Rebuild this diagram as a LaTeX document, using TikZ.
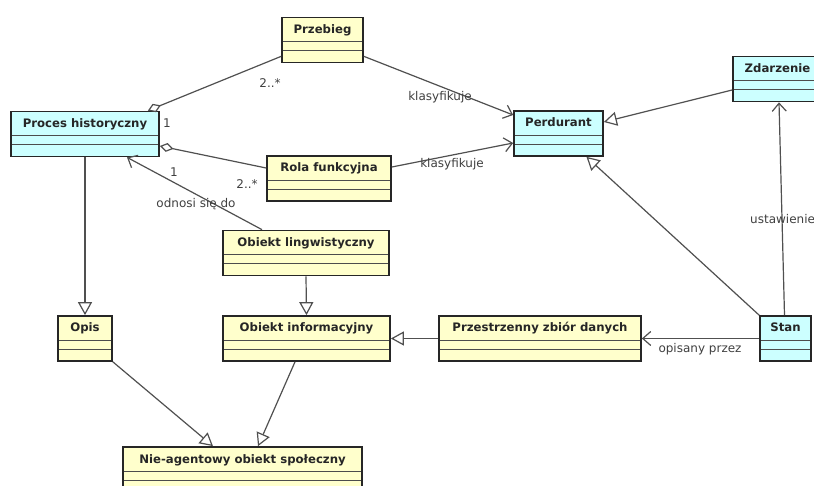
\documentclass[tikz,border=0pt]{standalone}
\usepackage{fontspec}
\setmainfont{DejaVu Sans}
\usepackage{xcolor}
\usepackage{tikz}
\usetikzlibrary{arrows.meta}
\definecolor{clsyellow}{RGB}{255,255,204}
\definecolor{clscyan}{RGB}{204,255,255}
\definecolor{linkgray}{RGB}{80,80,80}

\begin{document}
\begin{tikzpicture}[x=1pt,y=-1pt,
  cls/.style={draw=black!85,line width=1.7pt,inner sep=0pt,text height=16pt,text depth=29pt,
    font=\fontsize{11.7}{14}\selectfont\bfseries,text=black!85,
    path picture={\draw[line width=0.8pt,black!70]
      ([yshift=-24pt]path picture bounding box.north west) -- ([yshift=-24pt]path picture bounding box.north east)
      ([yshift=-33pt]path picture bounding box.north west) -- ([yshift=-33pt]path picture bounding box.north east);}},
  yel/.style={cls,fill=clsyellow},
  cya/.style={cls,fill=clscyan},
  assoc/.style={draw=linkgray,line width=1.2pt,-{Straight Barb[length=8pt,width=14pt]}},
  gen/.style={draw=linkgray,line width=1.2pt,-{Triangle[open,length=13pt,width=14pt]}},
  aggr/.style={draw=linkgray,line width=1.2pt,{Diamond[open,length=14pt,width=9pt]}-},
  lab/.style={font=\fontsize{12}{14}\selectfont,text=black!75,inner sep=1pt}]
\clip (0,0) rectangle (814,486);
\fill[white] (0,0) rectangle (814,486);
% classes
\node[yel,minimum width=81pt] (przeb) at (322.5,40) {Przebieg};
\node[cya,minimum width=148pt] (proc) at (85,134) {Proces historyczny};
\node[yel,minimum width=124pt] (rola) at (329,178.5) {Rola funkcyjna};
\node[cya,minimum width=89pt] (perd) at (558.5,133.5) {Perdurant};
\node[cya,minimum width=89pt] (zd) at (777.5,79) {Zdarzenie};
\node[yel,minimum width=166pt] (oling) at (306,253) {Obiekt lingwistyczny};
\node[yel,minimum width=54pt] (opis) at (85,338.5) {Opis};
\node[yel,minimum width=167pt] (oinf) at (306.5,338.5) {Obiekt informacyjny};
\node[yel,minimum width=202pt] (pzd) at (540,338.5) {Przestrzenny zbiór danych};
\node[cya,minimum width=51pt] (stan) at (785.5,338.5) {Stan};
\node[yel,minimum width=239pt] (nie) at (242.5,469.5) {Nie-agentowy obiekt społeczny};
% aggregations
\draw[aggr] ([xshift=-12pt]proc.north east) -- ([yshift=7pt]przeb.south west);
\draw[aggr] ([yshift=-12pt]proc.east) -- ([yshift=10.5pt]rola.west);
% associations
\draw[assoc] ([yshift=7pt]przeb.south east) -- ([yshift=18.5pt]perd.west);
\draw[assoc] ([yshift=11.5pt]rola.east) -- ([yshift=-9.5pt]perd.west);
\draw[assoc] ([xshift=-44pt]oling.north) -- ([xshift=42pt]proc.south);
\draw[assoc] ([xshift=-1pt]stan.north) -- ([xshift=1.5pt]zd.south);
\draw[assoc] (stan.west) -- (pzd.east);
% generalizations
\draw[gen] ([yshift=-11pt]zd.west) -- ([yshift=11.5pt]perd.east);
\draw[gen] (stan.north west) -- ([xshift=28pt]perd.south);
\draw[gen] (pzd.west) -- (oinf.east);
\draw[gen] (oling.south) -- (oinf.north);
\draw[gen] (proc.south) -- (opis.north);
\draw[gen] (opis.south east) -- ([xshift=-29.5pt]nie.north);
\draw[gen] ([xshift=-11.5pt]oinf.south) -- ([xshift=15.5pt]nie.north);
% labels
\node[lab] (m1) at (270,83) {2..*};
\node[lab] (m2) at (167,123) {1};
\node[lab] (m3) at (174,172) {1};
\node[lab] (m4) at (247,184) {2..*};
\node[lab] (k1) at (440,97) {klasyfikuje};
\node[lab] (k2) at (452,164) {klasyfikuje};
\node[lab] (odn) at (196,204) {odnosi się do};
\node[lab,anchor=west] (ust) at (749,219) {ustawienie};
\node[lab] (opp) at (700,349) {opisany przez};
\end{tikzpicture}
\end{document}
